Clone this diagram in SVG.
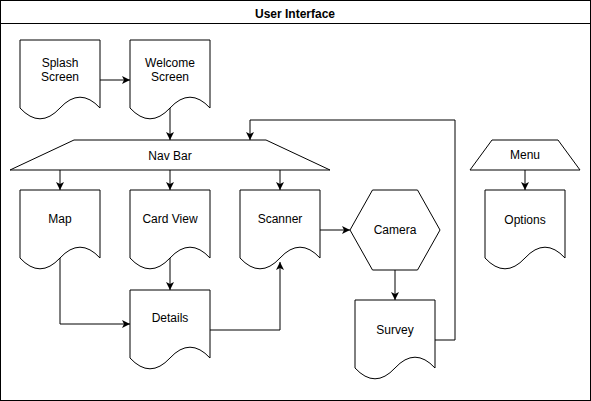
<svg xmlns="http://www.w3.org/2000/svg" width="591" height="401" viewBox="0 0 591 401">
<defs>
<marker id="arr" markerUnits="userSpaceOnUse" markerWidth="10" markerHeight="10" refX="8" refY="4" orient="auto">
<path d="M0,0 L8,4 L0,8 L2,4 Z" fill="#000" stroke="none"/>
</marker>
<style>
.s{fill:#fff;stroke:#000;stroke-width:1}
.t{font-family:"Liberation Sans",Arial,Helvetica,sans-serif;font-size:12px;fill:#000;text-anchor:middle}
.b{font-weight:bold}
.e{fill:none;stroke:#000;stroke-width:1;marker-end:url(#arr)}
</style>
</defs>
<rect width="591" height="401" fill="#fff"/>
<g id="frame">
<rect class="s" x="0.5" y="0.5" width="590" height="400"/>
<line x1="0.5" y1="23.5" x2="590.5" y2="23.5" stroke="#000"/>
<text class="t b" x="295" y="18">User Interface</text>
</g>
<g id="splash">
<path class="s" d="M20,40 H100 V108 Q80,86.4 60,108 Q40,129.6 20,108 Z"/>
<text class="t" x="60" y="67">Splash</text>
<text class="t" x="60" y="81">Screen</text>
</g>
<g id="welcome">
<path class="s" d="M130,40 H210 V108 Q190,86.4 170,108 Q150,129.6 130,108 Z"/>
<text class="t" x="170" y="67">Welcome</text>
<text class="t" x="170" y="81">Screen</text>
</g>
<g id="navbar">
<path class="s" d="M74,140 H266 L330,170 H10 Z"/>
<text class="t" x="170" y="160">Nav Bar</text>
</g>
<g id="map">
<path class="s" d="M20,190 H100 V258 Q80,236.4 60,258 Q40,279.6 20,258 Z"/>
<text class="t" x="60" y="223">Map</text>
</g>
<g id="cardview">
<path class="s" d="M130,190 H210 V258 Q190,236.4 170,258 Q150,279.6 130,258 Z"/>
<text class="t" x="170" y="223">Card View</text>
</g>
<g id="scanner">
<path class="s" d="M240,190 H320 V258 Q300,236.4 280,258 Q260,279.6 240,258 Z"/>
<text class="t" x="280" y="223">Scanner</text>
</g>
<g id="details">
<path class="s" d="M130,290 H210 V358 Q190,336.4 170,358 Q150,379.6 130,358 Z"/>
<text class="t" x="170" y="322">Details</text>
</g>
<g id="camera">
<path class="s" d="M372.5,190 H417.5 L440,230 L417.5,270 H372.5 L350,230 Z"/>
<text class="t" x="395" y="234">Camera</text>
</g>
<g id="survey">
<path class="s" d="M355,300 H435 V368 Q415,346.4 395,368 Q375,389.6 355,368 Z"/>
<text class="t" x="395" y="334">Survey</text>
</g>
<g id="menu">
<path class="s" d="M492,140 H558 L580,170 H470 Z"/>
<text class="t" x="525" y="159">Menu</text>
</g>
<g id="options">
<path class="s" d="M485,190 H565 V258 Q545,236.4 525,258 Q505,279.6 485,258 Z"/>
<text class="t" x="525" y="224">Options</text>
</g>
<g id="connectors">
<path class="e" d="M100,80 H130"/>
<path class="e" d="M170,108 V140"/>
<path class="e" d="M60,170 V190"/>
<path class="e" d="M170,170 V190"/>
<path class="e" d="M280,170 V190"/>
<path class="e" d="M170,258 V290"/>
<path class="e" d="M60,258 V324 H130"/>
<path class="e" d="M210,330 H280 V262"/>
<path class="e" d="M320,230 H350"/>
<path class="e" d="M395,270 V300"/>
<path class="e" d="M435,340 H455 V120 H250 V140"/>
<path class="e" d="M525,170 V190"/>
</g>
</svg>
